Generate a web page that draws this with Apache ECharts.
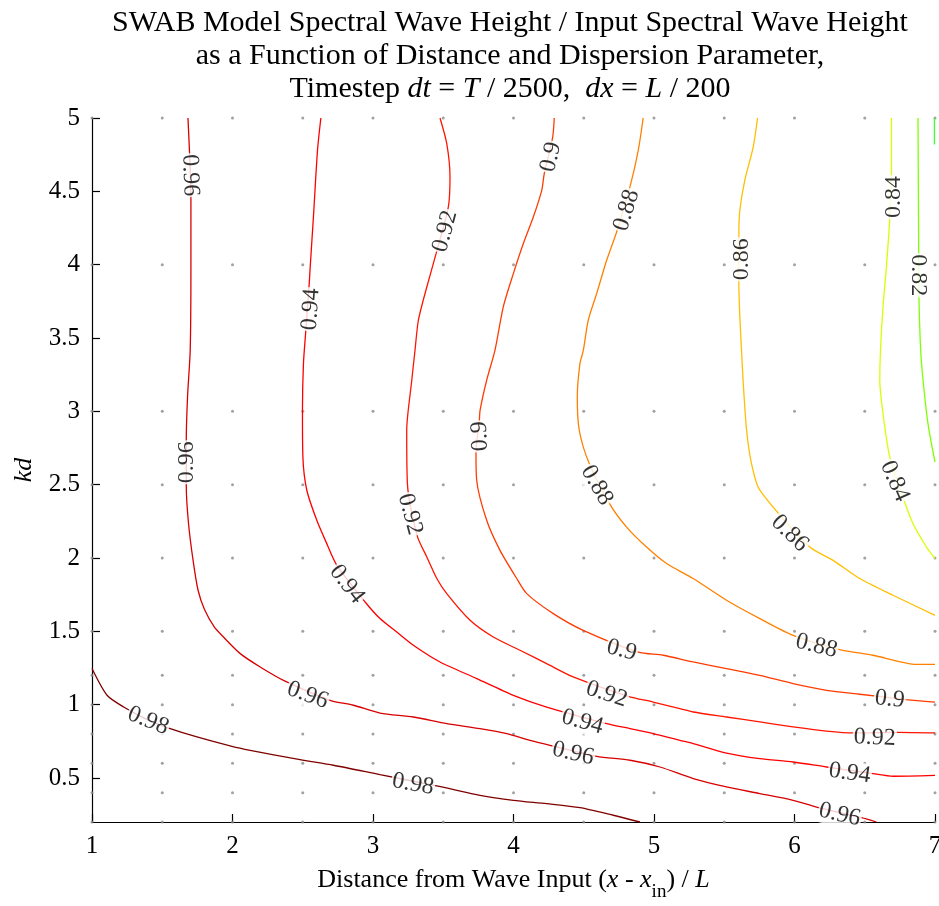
<!DOCTYPE html>
<html><head><meta charset="utf-8">
<script src="https://cdn.jsdelivr.net/npm/echarts@6/dist/echarts.min.js"></script>
<style>html,body{margin:0;padding:0;background:#fff}#c{width:939px;height:906px}</style>
</head><body><div id="c"></div>
<script>
// ---- data ----
const xTicks = [1, 2, 3, 4, 5, 6, 7];
const yTicks = [0.5, 1, 1.5, 2, 2.5, 3, 3.5, 4, 4.5, 5];
const sampleX = [1, 1.5, 2, 2.5, 3, 3.5, 4, 4.5, 5, 5.5, 6, 6.5, 7];
const sampleKd = [0.2, 0.4, 0.6, 0.8, 1.0, 1.2, 1.5, 2, 2.5, 3, 4, 5];

const levels = ['0.98', '0.96', '0.94', '0.92', '0.9', '0.88', '0.86', '0.84', '0.82', '0.8'];

const c098 = [[1.0,1.246],[1.107,1.064],[1.225,0.984],[1.40,0.895],[1.557,0.837],[1.747,0.780],[1.996,0.716],[2.126,0.689],[2.481,0.625],[2.718,0.587],[3.050,0.523],[3.489,0.439],[3.762,0.382],[3.999,0.348],[4.236,0.325],[4.473,0.298],[4.710,0.246],[4.900,0.2]];
const c096 = [[1.683,5.0],[1.694,4.768],[1.704,4.450],[1.704,3.984],[1.699,3.416],[1.680,3.098],[1.671,2.803],[1.671,2.495],[1.687,2.235],[1.720,1.980],[1.755,1.780],[1.800,1.650],[1.870,1.530],[1.936,1.461],[2.055,1.348],[2.197,1.257],[2.363,1.166],[2.695,1.030],[2.861,0.996],[3.050,0.943],[3.287,0.916],[3.525,0.871],[3.762,0.837],[3.952,0.803],[4.117,0.757],[4.260,0.723],[4.592,0.648],[4.830,0.621],[5.042,0.575],[5.279,0.496],[5.516,0.439],[5.753,0.394],[5.990,0.348],[6.157,0.302],[6.477,0.230],[6.583,0.2]];
const c094 = [[2.629,5.0],[2.605,4.780],[2.576,4.325],[2.553,3.984],[2.546,3.871],[2.522,3.553],[2.505,3.325],[2.498,3.007],[2.501,2.689],[2.529,2.462],[2.600,2.257],[2.671,2.098],[2.743,1.950],[2.944,1.700],[3.050,1.587],[3.169,1.495],[3.287,1.405],[3.477,1.291],[3.738,1.178],[3.999,1.064],[4.236,0.984],[4.663,0.871],[4.829,0.837],[4.994,0.803],[5.184,0.757],[5.279,0.735],[5.516,0.670],[5.753,0.632],[5.990,0.609],[6.228,0.575],[6.559,0.530],[6.701,0.512],[7.0,0.518]];
const c092 = [[3.477,5.0],[3.525,4.825],[3.548,4.598],[3.536,4.393],[3.449,4.075],[3.383,3.848],[3.323,3.621],[3.299,3.416],[3.276,3.212],[3.240,2.871],[3.245,2.507],[3.316,2.148],[3.383,2.007],[3.454,1.860],[3.525,1.757],[3.691,1.575],[3.856,1.461],[4.046,1.371],[4.236,1.280],[4.425,1.189],[4.816,1.057],[4.994,1.018],[5.184,0.973],[5.279,0.950],[5.516,0.916],[5.753,0.882],[5.990,0.848],[6.228,0.820],[6.418,0.807],[6.737,0.811],[7.0,0.807]];
const c090 = [[4.290,5.0],[4.279,4.870],[4.219,4.621],[4.201,4.507],[4.141,4.325],[4.070,4.144],[3.999,3.939],[3.927,3.711],[3.868,3.416],[3.809,3.212],[3.762,3.007],[3.757,2.939],[3.733,2.723],[3.738,2.530],[3.809,2.257],[3.904,2.052],[4.023,1.860],[4.094,1.757],[4.283,1.621],[4.496,1.507],[4.888,1.359],[5.065,1.337],[5.279,1.291],[5.516,1.246],[5.753,1.200],[5.990,1.144],[6.228,1.098],[6.464,1.071],[6.797,1.035],[7.0,1.018]];
const c088 = [[4.923,5.0],[4.888,4.780],[4.829,4.530],[4.734,4.223],[4.663,4.030],[4.592,3.803],[4.532,3.621],[4.497,3.416],[4.473,3.325],[4.454,3.098],[4.468,2.871],[4.539,2.644],[4.691,2.359],[4.805,2.211],[4.947,2.075],[5.090,1.962],[5.279,1.860],[5.516,1.712],[5.753,1.587],[5.990,1.473],[6.322,1.376],[6.559,1.337],[6.868,1.275],[7.0,1.275]];
const c086 = [[5.737,5.0],[5.706,4.802],[5.646,4.575],[5.611,4.371],[5.604,4.212],[5.604,3.871],[5.611,3.643],[5.623,3.416],[5.634,3.212],[5.659,2.871],[5.694,2.644],[5.753,2.462],[6.109,2.075],[6.275,1.984],[6.464,1.860],[6.701,1.746],[7.0,1.609]];
const c084 = [[6.690,5.0],[6.690,4.632],[6.678,4.314],[6.654,3.984],[6.630,3.711],[6.612,3.416],[6.607,3.212],[6.630,2.985],[6.678,2.689],[6.784,2.382],[6.843,2.235],[6.939,2.075],[7.0,1.996]];
const c082 = [[6.879,5.0],[6.884,4.086],[6.886,3.769],[6.898,3.416],[6.915,3.212],[6.950,2.916],[7.0,2.653]];
const c080 = [[6.996,5.0],[6.996,4.82]];

// contour label anchor points (where the level value is written on each line)
const lab098 = [[1.40,0.89],[3.285,0.457]];
const lab096 = [[1.699,4.61],[1.671,2.652],[2.535,1.064],[4.425,0.666],[6.322,0.25]];
const lab094 = [[2.558,3.696],[2.814,1.821],[4.491,0.882],[6.393,0.532]];
const lab092 = [[3.513,4.228],[3.264,2.298],[4.663,1.071],[6.571,0.774]];
const lab090 = [[4.267,4.734],[3.762,2.830],[4.770,1.371],[6.678,1.037]];
const lab088 = [[4.805,4.371],[4.592,2.496],[6.156,1.400]];
const lab086 = [[5.625,4.037],[5.966,2.168]];
const lab084 = [[6.706,4.461],[6.713,2.523]];
const lab082 = [[6.879,3.928]];
const lab080 = [];

// ---- styling ----
const lineColors = ['#800000','#d80000','#ff0000','#ff1400','#ff3c00','#ff8000','#ffbf00','#d8ff00','#80ff00','#40ff30'];
const labelAngles = [
  [-22,-10],
  [-88,90,-20,-13,-13],
  [86,-52,-15,-8],
  [75,-75,-18,-2],
  [77,92,-15,-6],
  [73,-60,-14],
  [90,-44],
  [90,-66],
  [-90],
  []
];
const contours = [c098,c096,c094,c092,c090,c088,c086,c084,c082,c080];
const labelPts = [lab098,lab096,lab094,lab092,lab090,lab088,lab086,lab084,lab082,lab080];

const FONT = 'Liberation Serif';
const series = [];
series.push({
  type: 'scatter', z: 1, silent: true, symbolSize: 3,
  itemStyle: { color: '#8a8a8a' },
  data: sampleX.flatMap(x => sampleKd.map(k => [x, k]))
});
contours.forEach((pts, i) => {
  series.push({
    type: 'line', z: 3, silent: true, showSymbol: false, smooth: 0.25,
    lineStyle: { color: lineColors[i], width: 1.3 },
    data: pts
  });
});
labelPts.forEach((pts, i) => {
  if (!pts.length) return;
  series.push({
    type: 'scatter', z: 5, silent: true, symbolSize: 1,
    itemStyle: { color: 'rgba(0,0,0,0)' },
    label: {
      show: true, position: 'inside', formatter: levels[i],
      fontFamily: FONT, fontSize: 24, color: '#000',
      backgroundColor: '#fff', padding: [0, 1]
    },
    data: pts.map((p, j) => ({ value: p, label: { rotate: labelAngles[i][j] } }))
  });
});

const chart = echarts.init(document.getElementById('c'), null, { renderer: 'canvas' });
chart.setOption({
  animation: false,
  backgroundColor: '#fff',
  title: {
    left: 510, top: 7, textAlign: 'center', padding: 0,
    text: '{n|SWAB Model Spectral Wave Height / Input Spectral Wave Height}\n{n|as a Function of Distance and Dispersion Parameter,}\n{n|Timestep }{i|dt}{n| = }{i|T}{n| / 2500,  }{i|dx}{n| = }{i|L}{n| / 200}',
    textStyle: {
      fontWeight: 'normal',
      rich: {
        n: { fontFamily: FONT, fontSize: 30, fontWeight: 'normal', color: '#000', lineHeight: 33 },
        i: { fontFamily: FONT, fontSize: 30, fontWeight: 'normal', color: '#000', fontStyle: 'italic', lineHeight: 33 }
      }
    }
  },
  grid: { left: 92, right: 4, top: 118, bottom: 84, containLabel: false, outerBoundsMode: 'none' },
  xAxis: {
    type: 'value', min: 1, max: 7, interval: 1,
    axisLine: { show: true, onZero: false, lineStyle: { color: '#000', width: 1.2 } },
    axisTick: { show: true, inside: true, length: 8, lineStyle: { color: '#000', width: 1.2 } },
    axisLabel: { fontFamily: FONT, fontSize: 25, color: '#000', margin: 12, customValues: xTicks },
    splitLine: { show: false },
    name: '{n|Distance from Wave Input (}{i|x}{n| - }{i|x}{s|in}{n|) / }{i|L}',
    nameLocation: 'middle', nameGap: 37,
    nameTextStyle: {
      rich: {
        n: { fontFamily: FONT, fontSize: 26, color: '#000' },
        i: { fontFamily: FONT, fontSize: 26, color: '#000', fontStyle: 'italic' },
        s: { fontFamily: FONT, fontSize: 19, color: '#000', padding: [24, 0, 0, 0] }
      }
    }
  },
  yAxis: {
    type: 'value', min: 0.2, max: 5,
    axisLine: { show: true, onZero: false, lineStyle: { color: '#000', width: 1.2 } },
    axisTick: { show: true, inside: true, length: 8, customValues: yTicks, lineStyle: { color: '#000', width: 1.2 } },
    axisLabel: { fontFamily: FONT, fontSize: 25, color: '#000', margin: 12, customValues: yTicks },
    splitLine: { show: false },
    name: 'kd', nameLocation: 'middle', nameRotate: 90, nameGap: 55,
    nameTextStyle: { fontFamily: FONT, fontSize: 26, fontStyle: 'italic', color: '#000' }
  },
  series: series
});
</script>
</body></html>
